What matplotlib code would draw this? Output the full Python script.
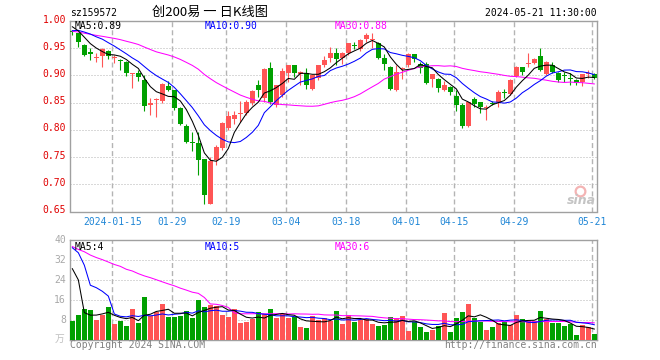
import numpy as np
import pandas as pd
import matplotlib
matplotlib.use("Agg")
import matplotlib.pyplot as plt
from matplotlib.lines import Line2D

plt.rcParams['font.family'] = ['DejaVu Sans Mono']
plt.rcParams['lines.scale_dashes'] = False

# ---------------- data ----------------
title = "创200易 一 日K线图"
code = "sz159572"
stamp = "2024-05-21 11:30:00"

tick_index = [7, 17, 26, 36, 46, 56, 64, 74, 87]
tick_labels = ['2024-01-15', '01-29', '02-19', '03-04', '03-18', '04-01', '04-15', '04-29', '05-21']

opens = [0.982, 0.978, 0.956, 0.944, 0.933, 0.935, 0.945, 0.932, 0.928, 0.924,
         0.903, 0.905, 0.892, 0.846, 0.855, 0.854, 0.881, 0.873, 0.840, 0.807,
         0.777, 0.776, 0.746, 0.664, 0.745, 0.767, 0.803, 0.820, 0.830, 0.831,
         0.850, 0.882, 0.859, 0.913, 0.845, 0.864, 0.904, 0.919, 0.902, 0.904,
         0.876, 0.895, 0.919, 0.932, 0.941, 0.932, 0.941, 0.956, 0.948, 0.967,
         0.966, 0.959, 0.932, 0.916, 0.873, 0.912, 0.920, 0.939, 0.922, 0.922,
         0.893, 0.893, 0.873, 0.879, 0.862, 0.845, 0.808, 0.856, 0.851, 0.841,
         0.849, 0.851, 0.869, 0.866, 0.899, 0.915, 0.921, 0.923, 0.936, 0.903,
         0.919, 0.905, 0.900, 0.895, 0.891, 0.888, 0.902, 0.903]
highs = [0.983, 0.979, 0.957, 0.950, 0.942, 0.950, 0.947, 0.937, 0.930, 0.926,
         0.905, 0.910, 0.900, 0.858, 0.858, 0.886, 0.890, 0.874, 0.842, 0.811,
         0.797, 0.797, 0.747, 0.751, 0.772, 0.815, 0.834, 0.835, 0.853, 0.855,
         0.873, 0.891, 0.914, 0.924, 0.882, 0.914, 0.920, 0.920, 0.908, 0.913,
         0.901, 0.920, 0.935, 0.953, 0.951, 0.944, 0.960, 0.961, 0.968, 0.978,
         0.978, 0.962, 0.939, 0.917, 0.919, 0.916, 0.941, 0.940, 0.924, 0.924,
         0.903, 0.895, 0.889, 0.881, 0.874, 0.849, 0.852, 0.860, 0.852, 0.845,
         0.853, 0.873, 0.876, 0.893, 0.917, 0.916, 0.942, 0.932, 0.950, 0.927,
         0.924, 0.906, 0.907, 0.905, 0.893, 0.903, 0.910, 0.905]
lows = [0.974, 0.953, 0.935, 0.929, 0.924, 0.916, 0.930, 0.923, 0.910, 0.899,
        0.877, 0.889, 0.834, 0.827, 0.823, 0.850, 0.871, 0.837, 0.809, 0.776,
        0.761, 0.717, 0.663, 0.663, 0.736, 0.763, 0.800, 0.811, 0.814, 0.828,
        0.846, 0.860, 0.851, 0.848, 0.842, 0.861, 0.888, 0.897, 0.882, 0.876,
        0.873, 0.891, 0.916, 0.925, 0.919, 0.922, 0.938, 0.949, 0.945, 0.962,
        0.950, 0.930, 0.910, 0.873, 0.871, 0.894, 0.916, 0.925, 0.904, 0.885,
        0.879, 0.870, 0.871, 0.864, 0.835, 0.804, 0.806, 0.842, 0.831, 0.818,
        0.845, 0.843, 0.859, 0.864, 0.897, 0.901, 0.916, 0.922, 0.909, 0.901,
        0.904, 0.888, 0.888, 0.882, 0.882, 0.880, 0.896, 0.894]
closes = [0.980, 0.962, 0.937, 0.939, 0.934, 0.948, 0.935, 0.933, 0.927, 0.904,
          0.904, 0.897, 0.844, 0.849, 0.857, 0.884, 0.874, 0.841, 0.810, 0.778,
          0.776, 0.745, 0.680, 0.742, 0.769, 0.812, 0.826, 0.828, 0.831, 0.852,
          0.871, 0.873, 0.912, 0.851, 0.882, 0.909, 0.919, 0.904, 0.906, 0.882,
          0.900, 0.919, 0.928, 0.941, 0.930, 0.941, 0.959, 0.955, 0.966, 0.975,
          0.967, 0.932, 0.922, 0.875, 0.907, 0.913, 0.939, 0.930, 0.913, 0.887,
          0.902, 0.877, 0.883, 0.870, 0.845, 0.808, 0.851, 0.848, 0.842, 0.842,
          0.848, 0.870, 0.868, 0.891, 0.916, 0.907, 0.922, 0.930, 0.911, 0.925,
          0.907, 0.891, 0.899, 0.894, 0.886, 0.903, 0.903, 0.896]
volumes = [7.7, 10.1, 12.5, 12.0, 8.1, 10.1, 13.3, 6.5, 7.7, 5.7,
           12.5, 6.9, 17.3, 9.7, 11.3, 14.5, 9.3, 9.3, 9.7, 11.7,
           8.9, 16.1, 13.3, 14.1, 13.7, 10.1, 9.3, 12.5, 6.9, 7.3,
           8.5, 11.3, 10.5, 12.5, 8.9, 10.5, 8.9, 9.3, 5.3, 4.9,
           9.7, 8.1, 8.9, 7.9, 11.7, 6.5, 10.1, 7.3, 8.1, 8.5,
           6.5, 5.7, 6.1, 9.3, 8.9, 9.7, 3.7, 7.3, 5.3, 3.3,
           4.1, 5.7, 10.9, 3.3, 8.9, 11.3, 14.5, 8.9, 7.3, 4.1,
           5.3, 6.9, 7.3, 6.1, 10.1, 8.5, 7.7, 7.7, 11.7, 8.5,
           6.9, 6.9, 5.7, 6.5, 2.1, 6.1, 5.3, 2.5]

# sessions before the visible window (estimated from where the MA lines start)
prior_closes = [1.000, 1.004, 0.998, 0.995, 0.999, 0.993, 0.990, 0.996, 0.992, 0.988,
                0.991, 0.986, 0.984, 0.986, 0.972, 0.960, 0.950, 0.945, 0.941, 0.944,
                0.955, 0.968, 0.976, 0.985, 0.991, 1.000, 0.995, 0.998, 0.975]
prior_volumes = [45, 40, 52, 38, 35, 42, 36, 30, 41, 33,
                 39, 44, 31, 36, 40, 34, 32, 38, 35, 34,
                 30, 62.5, 92, 18, 24.5, 32.5, 78, 17, 8]

price_ticks = [0.65, 0.70, 0.75, 0.80, 0.85, 0.90, 0.95, 1.00]
vol_ticks = [8, 16, 24, 32, 40]
ma_price_text = ["MA5:0.89", "MA10:0.90", "MA30:0.88"]
ma_vol_text = ["MA5:4", "MA10:5", "MA30:6"]

# ---------------- style ----------------
RED = '#ff5555'
GREEN = '#00a000'
GRID = '#b4b4b4'
FRAME = '#a0a0a0'
MA_COLORS = ['#000000', '#0000ff', '#ff00ff']

W, H = 660, 360
fig = plt.figure(figsize=(W / 100, H / 100), dpi=100)
fig.patch.set_facecolor('white')


def fx(x):
    return x / W


def fy(y):
    return 1 - y / H


def ptext(x, y, s, **kw):
    fig.text(fx(x), fy(y), s, **kw)


L, R = 70.3, 597.0
TOP, BOT = 21.1, 211.5
VTOP, VBOT = 240.3, 340.3
ax = fig.add_axes([fx(L), fy(BOT), (R - L) / W, (BOT - TOP) / H])
axv = fig.add_axes([fx(L), fy(VBOT), (R - L) / W, (VBOT - VTOP) / H])

o = np.array(opens); h = np.array(highs); lo = np.array(lows); c = np.array(closes)
v = np.array(volumes)
n = len(c)
x = np.arange(n)
up = c >= o
cols = np.where(up, RED, GREEN)

xlim = (-0.34, 87.45)

for a in (ax, axv):
    a.set_xlim(*xlim)
    a.set_xticks([])
    a.set_yticks([])
    for sp in a.spines.values():
        sp.set_color(FRAME)
        sp.set_linewidth(1.0)
    for t in tick_index:
        a.axvline(t - 0.33, color=GRID, lw=1.0, ls=(0, (3.6, 2.2)), zorder=1)

ax.set_ylim(0.65, 1.00)
axv.set_ylim(0, 40)

for p in price_ticks[1:-1]:
    ax.axhline(p, color=GRID, lw=0.72, ls=(0, (0.72, 1.44)), zorder=1)
for vt in vol_ticks[:-1]:
    axv.axhline(vt, color=GRID, lw=0.72, ls=(0, (0.72, 1.44)), zorder=1)

# candles
ax.vlines(x, lo, h, colors=cols, lw=0.8, zorder=3)
body_b = np.minimum(o, c)
body_h = np.maximum(np.abs(c - o), 0.0018)
ax.bar(x, body_h, bottom=body_b, width=0.8, color=cols, lw=0, zorder=4)

# volumes
axv.bar(x, v, width=0.82, color=cols, lw=0, zorder=3)

# moving averages
all_c = pd.Series(np.r_[prior_closes, c])
all_v = pd.Series(np.r_[prior_volumes, v])
for win, colr in zip((30, 10, 5), MA_COLORS[::-1]):
    ax.plot(x, all_c.rolling(win).mean().to_numpy()[-n:], color=colr, lw=0.75, zorder=5)
    axv.plot(x, all_v.rolling(win).mean().to_numpy()[-n:], color=colr, lw=0.75, zorder=5)

# ---------------- texts ----------------
mono = dict(family='DejaVu Sans Mono', fontsize=7)
ptext(70, 13, code, ha='left', va='center', color='black', **mono)
ptext(210, 12.5, title, ha='center', va='center', color='black', fontsize=9.5,
      family=['Noto Sans CJK SC', 'DejaVu Sans'])
ptext(597, 12.7, stamp, ha='right', va='center', color='black', **mono)

for p in price_ticks:
    yy = BOT - (p - 0.65) / 0.35 * (BOT - TOP)
    ptext(66, yy - 1.5, f"{p:.2f}", ha='right', va='center', color='#e00000', **mono)

for t, lab in zip(tick_index, tick_labels):
    xx = L + (t - 0.33 - xlim[0]) / (xlim[1] - xlim[0]) * (R - L)
    ptext(xx, 221.7, lab, ha='center', va='center', color='#1f86d6', **mono)

for vt in vol_ticks:
    yy = VBOT - vt / 40 * (VBOT - VTOP)
    ptext(66, yy, f"{vt}", ha='right', va='center', color='#a8a8a8', **mono)
ptext(64, 339, "万", ha='right', va='center', color='#c0c0c0', fontsize=7,
      family=['Noto Sans CJK SC', 'DejaVu Sans'])

for xx, s, colr in zip((75, 205, 335), ma_price_text, MA_COLORS):
    ptext(xx, 26, s, ha='left', va='center', color=colr, **mono)
for xx, s, colr in zip((75, 205, 335), ma_vol_text, MA_COLORS):
    ptext(xx, 246.5, s, ha='left', va='center', color=colr, **mono)

ptext(69.5, 345.5, "Copyright 2024 SINA.COM", ha='left', va='center', color='#808080', **mono)
ptext(597, 345.5, "http://finance.sina.com.cn", ha='right', va='center', color='#808080', **mono)

# sina watermark
fig.add_artist(Line2D([fx(580)], [fy(191)], marker='o', markersize=7, markerfacecolor='none',
                      markeredgecolor='#f4b4b4', markeredgewidth=1.6, transform=fig.transFigure))
ptext(581, 201, "sina", ha='center', va='center', color='#c4c4c4', fontsize=9,
      fontweight='bold', style='italic', family='DejaVu Sans')

fig.savefig('out.png', dpi=100)
